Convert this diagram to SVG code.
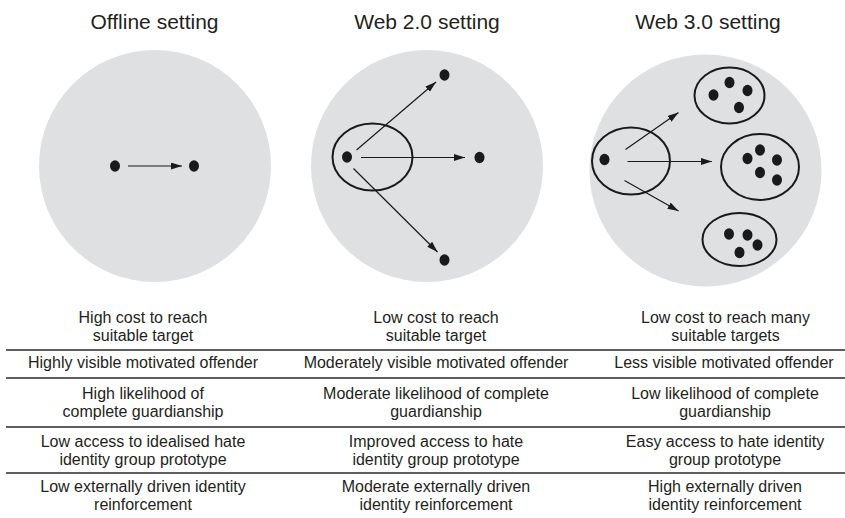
<svg xmlns="http://www.w3.org/2000/svg" width="845" height="518" viewBox="0 0 845 518">
  <defs>
    <marker id="arr" markerUnits="userSpaceOnUse" markerWidth="11" markerHeight="8" refX="11" refY="3.5" orient="auto">
      <path d="M0,0 L11,3.5 L0,7 z" fill="#1a1a1a"/>
    </marker>
  </defs>
  <style>
    .bg { fill: #dfe0e2; }
    .dot { fill: #1a1a1a; }
    .grp { fill: none; stroke: #1a1a1a; stroke-width: 2; }
    .con { stroke: #1a1a1a; stroke-width: 1.2; fill: none; marker-end: url(#arr); }
    .title { font-family: "Liberation Sans", Arial, sans-serif; font-size: 21px; fill: #231f20; text-anchor: middle; }
    .cell { font-family: "Liberation Sans", Arial, sans-serif; font-size: 16px; fill: #231f20; text-anchor: middle; }
    .rule { stroke: #2a2a2a; stroke-width: 1.6; }
  </style>
  <rect width="845" height="518" fill="#ffffff"/>

  <!-- Titles -->
  <text class="title" x="154.5" y="29">Offline setting</text>
  <text class="title" x="427" y="29">Web 2.0 setting</text>
  <text class="title" x="708" y="29">Web 3.0 setting</text>

  <!-- Offline setting -->
  <g id="offline">
    <circle class="bg" cx="155" cy="166" r="116"/>
    <g id="off-offender"><ellipse class="dot" cx="115" cy="166" rx="5" ry="5.8"/></g>
    <g id="off-target"><ellipse class="dot" cx="194" cy="166" rx="5" ry="5.8"/></g>
  </g>

  <!-- Web 2.0 setting -->
  <g id="web2">
    <circle class="bg" cx="427" cy="166" r="116"/>
    <g id="w2-offender">
      <ellipse class="grp" cx="372.5" cy="157" rx="40" ry="33.5"/>
      <ellipse class="dot" cx="347" cy="157" rx="5" ry="5.8"/>
    </g>
    <g id="w2-target-top"><ellipse class="dot" cx="444.5" cy="75" rx="5" ry="5.8"/></g>
    <g id="w2-target-mid"><ellipse class="dot" cx="479.5" cy="157.5" rx="5" ry="5.8"/></g>
    <g id="w2-target-bot"><ellipse class="dot" cx="444.5" cy="260" rx="5" ry="5.8"/></g>
  </g>

  <!-- Web 3.0 setting -->
  <g id="web3">
    <circle class="bg" cx="705.5" cy="170.5" r="116"/>
    <g id="w3-offender">
      <ellipse class="grp" cx="631" cy="161" rx="39" ry="33.5"/>
      <ellipse class="dot" cx="604.5" cy="159.5" rx="5" ry="5.8"/>
    </g>
    <g id="w3-group-top">
      <ellipse class="grp" cx="729.5" cy="95.5" rx="35" ry="28"/>
      <ellipse class="dot" cx="713.5" cy="95" rx="5" ry="5.8"/>
      <ellipse class="dot" cx="729.5" cy="82.5" rx="5" ry="5.8"/>
      <ellipse class="dot" cx="747.5" cy="90.5" rx="5" ry="5.8"/>
      <ellipse class="dot" cx="739" cy="107.5" rx="5" ry="5.8"/>
    </g>
    <g id="w3-group-mid">
      <ellipse class="grp" cx="760" cy="167" rx="39" ry="33"/>
      <ellipse class="dot" cx="747.5" cy="158.5" rx="5" ry="5.8"/>
      <ellipse class="dot" cx="760" cy="150" rx="5" ry="5.8"/>
      <ellipse class="dot" cx="777" cy="160" rx="5" ry="5.8"/>
      <ellipse class="dot" cx="760" cy="172.5" rx="5" ry="5.8"/>
      <ellipse class="dot" cx="777" cy="180" rx="5" ry="5.8"/>
    </g>
    <g id="w3-group-bot">
      <ellipse class="grp" cx="739.5" cy="239.5" rx="37" ry="26.5"/>
      <ellipse class="dot" cx="729" cy="234" rx="5" ry="5.8"/>
      <ellipse class="dot" cx="747.5" cy="235" rx="5" ry="5.8"/>
      <ellipse class="dot" cx="757.5" cy="245" rx="5" ry="5.8"/>
      <ellipse class="dot" cx="739.5" cy="252.5" rx="5" ry="5.8"/>
    </g>
  </g>

  <!-- Connectors -->
  <g id="connectors">
    <line class="con" x1="128" y1="166" x2="182" y2="166"/>
    <line class="con" x1="356.5" y1="150" x2="436" y2="82"/>
    <line class="con" x1="361" y1="157.5" x2="465" y2="157.5"/>
    <line class="con" x1="353.5" y1="168.5" x2="437.5" y2="252"/>
    <line class="con" x1="625.5" y1="149.5" x2="678.5" y2="112.5"/>
    <line class="con" x1="627.5" y1="161.5" x2="712" y2="161.5"/>
    <line class="con" x1="624.5" y1="180.5" x2="678.5" y2="211"/>
  </g>

  <!-- Table -->
  <g id="table">
    <line class="rule" x1="6" y1="350" x2="845" y2="350"/>
    <line class="rule" x1="6" y1="378" x2="845" y2="378"/>
    <line class="rule" x1="6" y1="427" x2="845" y2="427"/>
    <line class="rule" x1="6" y1="473" x2="845" y2="473"/>

    <text class="cell" x="143" y="323">High cost to reach</text>
    <text class="cell" x="143" y="341">suitable target</text>
    <text class="cell" x="436" y="323">Low cost to reach</text>
    <text class="cell" x="436" y="341">suitable target</text>
    <text class="cell" x="725.5" y="323">Low cost to reach many</text>
    <text class="cell" x="725.5" y="341">suitable targets</text>

    <text class="cell" x="143" y="367.5">Highly visible motivated offender</text>
    <text class="cell" x="436" y="367.5">Moderately visible motivated offender</text>
    <text class="cell" x="724" y="367.5">Less visible motivated offender</text>

    <text class="cell" x="143" y="399">High likelihood of</text>
    <text class="cell" x="143" y="417">complete guardianship</text>
    <text class="cell" x="436" y="399">Moderate likelihood of complete</text>
    <text class="cell" x="436" y="417">guardianship</text>
    <text class="cell" x="725" y="399">Low likelihood of complete</text>
    <text class="cell" x="725" y="417">guardianship</text>

    <text class="cell" x="143" y="447">Low access to idealised hate</text>
    <text class="cell" x="143" y="464.5">identity group prototype</text>
    <text class="cell" x="436" y="447">Improved access to hate</text>
    <text class="cell" x="436" y="464.5">identity group prototype</text>
    <text class="cell" x="725" y="447">Easy access to hate identity</text>
    <text class="cell" x="725" y="464.5">group prototype</text>

    <text class="cell" x="143" y="492">Low externally driven identity</text>
    <text class="cell" x="143" y="509.5">reinforcement</text>
    <text class="cell" x="436" y="492">Moderate externally driven</text>
    <text class="cell" x="436" y="509.5">identity reinforcement</text>
    <text class="cell" x="725" y="492">High externally driven</text>
    <text class="cell" x="725" y="509.5">identity reinforcement</text>
  </g>
</svg>
